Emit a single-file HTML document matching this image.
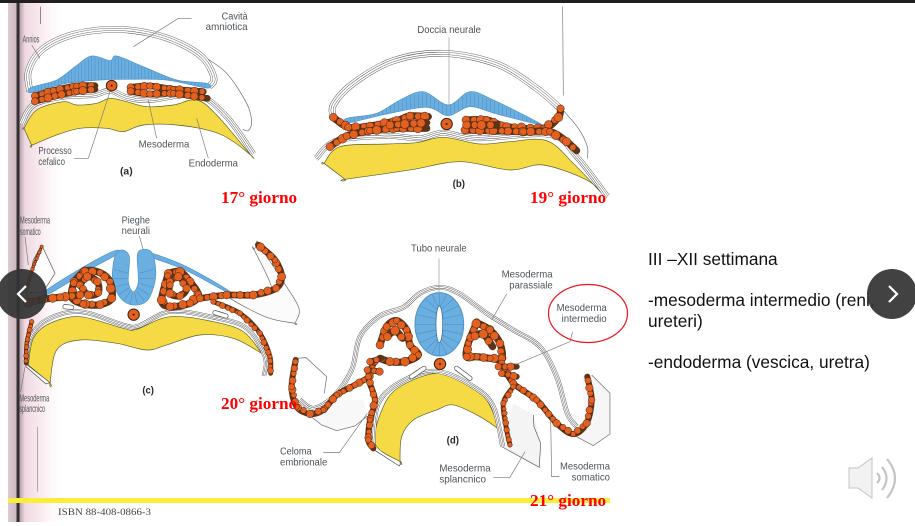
<!DOCTYPE html>
<html lang="it">
<head>
<meta charset="utf-8">
<title>Mesoderma</title>
<style>
html,body{margin:0;padding:0;background:#fff}
#slide{position:relative;width:915px;height:526px;overflow:hidden;background:#fff;font-family:"Liberation Sans",sans-serif}
#topbar{position:absolute;left:0;top:0;width:915px;height:3px;background:#1f1f1f}
#page{position:absolute;left:8px;top:3px;width:60px;height:519px;background:linear-gradient(90deg,#dccbd2 0,#cdb9c2 8px,#3a3436 9px,#2c2a2b 11px,#b8a2ac 12px,#f0d9e2 17px,#f8e8ee 30px,#fdf7f9 42px,#fff 55px)}
#art{position:absolute;left:0;top:0;filter:blur(.3px)}
.day{position:absolute;color:#f00;font:bold 17.2px "Liberation Serif",serif;white-space:nowrap;line-height:20px}
.note{position:absolute;left:648px;color:#111;font-size:17.3px;line-height:20.500px;white-space:nowrap}
.nav{position:absolute;width:50px;height:50px;border-radius:50%;background:rgba(52,52,52,.93);top:269px}
.nav svg{position:absolute;left:0;top:0}
</style>
</head>
<body>
<div id="slide">
<div id="page"></div>
<svg id="art" width="915" height="526" viewBox="0 0 915 526">
  <rect x="8" y="498" width="602" height="5" fill="#fbee3a"/>
  <g id="panel-a" transform="scale(0.3333)"></g>
  <g id="panel-b" transform="translate(310,0) scale(0.3333)"></g>
  <g id="panel-c" transform="translate(0,210) scale(0.3333)"></g>
  <g id="panel-d" transform="translate(280,230) scale(0.3333)"></g>
  <text x="58" y="515" font-family="Liberation Serif, serif" font-size="9" fill="#444" textLength="93" lengthAdjust="spacingAndGlyphs">ISBN 88-408-0866-3</text>
  <ellipse cx="588" cy="313.500" rx="39.500" ry="29" fill="none" stroke="#f01420" stroke-width="1.200"/>
</svg>

<div class="day" style="left:221px;top:188px">17° giorno</div>
<div class="day" style="left:530px;top:188px">19° giorno</div>
<div class="day" style="left:221px;top:394px">20° giorno</div>
<div class="day" style="left:530px;top:491px">21° giorno</div>

<div class="note" style="top:249px">III –XII settimana</div>
<div class="note" style="top:290px">-mesoderma intermedio (reni,<br>ureteri)</div>
<div class="note" style="top:352px">-endoderma (vescica, uretra)</div>

<div class="nav" style="left:-3px">
  <svg width="50" height="50"><path d="M29 17 L21 25 L29 33" fill="none" stroke="#fff" stroke-width="2.200"/></svg>
</div>
<div class="nav" style="left:867px">
  <svg width="50" height="50"><path d="M22 17 L30 25 L22 33" fill="none" stroke="#fff" stroke-width="2.200"/></svg>
</div>

<svg style="position:absolute;left:845px;top:454px" width="60" height="50" viewBox="0 0 60 50">
  <path d="M4 14 H13 L27 4 V44 L13 34 H4 Z" fill="#f2f2f2" stroke="#c4c4c4"/>
  <path d="M32 19 Q37 24 32 29" fill="none" stroke="#c4c4c4" stroke-width="2.200"/>
  <path d="M37 13 Q46 24 37 36" fill="none" stroke="#c4c4c4" stroke-width="2.200"/>
  <path d="M42 5 Q58 24 42 44" fill="none" stroke="#c4c4c4" stroke-width="2.200"/>
</svg>
</div>

<script>
var SVGNS = 'http://www.w3.org/2000/svg';
var YELLOW = '#f6da45', BLUE = '#6aafe0', ORANGE = '#e4601f', DARK = '#3e3e3e', BEADLINE = '#3b2415', CELLWALL = '#4f93c9';

function smooth(pts, closed) {
  var n = pts.length, d = 'M' + pts[0][0] + ' ' + pts[0][1];
  var last = closed ? n : n - 1;
  for (var i = 0; i < last; i++) {
    var p0 = closed ? pts[(i - 1 + n) % n] : pts[Math.max(i - 1, 0)];
    var p1 = pts[i % n];
    var p2 = pts[(i + 1) % n];
    var p3 = closed ? pts[(i + 2) % n] : pts[Math.min(i + 2, n - 1)];
    d += 'C' + (p1[0] + (p2[0] - p0[0]) / 6).toFixed(1) + ' ' + (p1[1] + (p2[1] - p0[1]) / 6).toFixed(1) + ' ' +
         (p2[0] - (p3[0] - p1[0]) / 6).toFixed(1) + ' ' + (p2[1] - (p3[1] - p1[1]) / 6).toFixed(1) + ' ' +
         p2[0] + ' ' + p2[1];
  }
  return d + (closed ? 'Z' : '');
}

function node(parent, tag, name) {
  var el = document.createElementNS(SVGNS, tag);
  
  
  parent.appendChild(el);
  return el;
}

function shape(parent, name, pts, fill, stroke, sw, closed) {
  var el = node(parent, 'path', name);
  el.setAttribute('d', smooth(pts, closed));
  el.setAttribute('fill', fill);
  el.setAttribute('stroke', stroke);
  el.setAttribute('stroke-width', sw);
  el.setAttribute('stroke-linejoin', 'round');
  return el;
}

function poly(parent, name, pts, fill, stroke, sw) {
  var el = node(parent, 'polygon', name);
  el.setAttribute('points', pts.map(function (p) { return p.join(','); }).join(' '));
  el.setAttribute('fill', fill);
  el.setAttribute('stroke', stroke);
  el.setAttribute('stroke-width', sw);
  el.setAttribute('stroke-linejoin', 'round');
  return el;
}

function membrane(parent, name, pts, w) {
  var layers = [[w, DARK], [w - 2.4, '#fff'], [w * 0.34 + 1.2, DARK], [w * 0.34 - 1.2, '#fff']];
  layers.forEach(function (l) {
    shape(parent, name, pts, 'none', l[1], l[0], false);
  });
}

function pill(parent, name, pts, w) {
  shape(parent, name, pts, 'none', '#444', w, false).setAttribute('stroke-linecap', 'round');
  shape(parent, name + '-lumen', pts, 'none', '#fff', w - 4, false).setAttribute('stroke-linecap', 'round');
}

function line(parent, name, pts, color) {
  var el = node(parent, 'polyline', name);
  el.setAttribute('points', pts.map(function (p) { return p.join(','); }).join(' '));
  el.setAttribute('fill', 'none');
  el.setAttribute('stroke', color || '#777');
  el.setAttribute('stroke-width', 2);
}

function beadRow(parent, name, pts, r) {
  shape(parent, name + '-tissue', pts, 'none', '#5e3418', r * 1.8, false).setAttribute('stroke-linecap', 'round');
  var pattern = [1, 0.85, 1.12, 0.92, 1.05, 0.8];
  var idx = 0;
  for (var i = 0; i < pts.length - 1; i++) {
    var dx = pts[i + 1][0] - pts[i][0], dy = pts[i + 1][1] - pts[i][1];
    var len = Math.sqrt(dx * dx + dy * dy), t = 0;
    while (t < len) {
      var rr = r * pattern[idx % pattern.length];
      var c = node(parent, 'circle', name + '-cell');
      c.setAttribute('cx', (pts[i][0] + dx * t / len).toFixed(1));
      c.setAttribute('cy', (pts[i][1] + dy * t / len).toFixed(1));
      c.setAttribute('r', rr.toFixed(1));
      c.setAttribute('fill', ORANGE);
      c.setAttribute('stroke', BEADLINE);
      c.setAttribute('stroke-width', 1.5);
      t += rr * 2;
      idx++;
    }
  }
}

function notochord(parent, x, y, r) {
  var c = node(parent, 'circle', 'notochord');
  c.setAttribute('cx', x);
  c.setAttribute('cy', y);
  c.setAttribute('r', r);
  c.setAttribute('fill', ORANGE);
  c.setAttribute('stroke', BEADLINE);
  c.setAttribute('stroke-width', 3);
  var k = node(parent, 'circle', 'notochord-core');
  k.setAttribute('cx', x);
  k.setAttribute('cy', y);
  k.setAttribute('r', 3);
  k.setAttribute('fill', '#3a1a0a');
}

function label(parent, name, str, x1, x2, y, bold) {
  var t = node(parent, 'text', name);
  t.setAttribute('x', x1);
  t.setAttribute('y', y);
  t.setAttribute('font-family', 'Liberation Sans, sans-serif');
  t.setAttribute('font-size', 31);
  t.setAttribute('fill', bold ? '#2a2a2a' : '#4d5358');
  if (bold) t.setAttribute('font-weight', 'bold');
  t.setAttribute('textLength', x2 - x1);
  t.setAttribute('lengthAdjust', 'spacingAndGlyphs');
  t.textContent = str;
}

function stripes(parent, name, top, bottom, step) {
  var g = node(parent, 'g', name);
  var minX = top[0][0], maxX = top[top.length - 1][0];
  function yAt(arr, x) {
    for (var i = 0; i < arr.length - 1; i++) {
      if (x >= arr[i][0] && x <= arr[i + 1][0]) {
        return arr[i][1] + (arr[i + 1][1] - arr[i][1]) * (x - arr[i][0]) / (arr[i + 1][0] - arr[i][0]);
      }
    }
    return arr[arr.length - 1][1];
  }
  for (var x = minX + step; x < maxX; x += step) {
    line(g, 'neural-cell-wall', [[x, yAt(top, x) + 2], [x, yAt(bottom, x) - 2]], CELLWALL);
  }
}

/* ---------- panel a ---------- */
var aAmnionOuter = [[90,275],[85,215],[125,150],[215,105],[340,88],[450,100],[540,130],[610,175],[642,235],[625,262]];
var aTail = [[605,165],[680,220],[740,310],[755,365],[745,392],[728,388]];
var aBlueTop = [[95,262],[170,240],[225,200],[275,168],[330,182],[350,168],[430,200],[530,240],[620,250]];
var aBlueBottom = [[620,264],[500,240],[380,238],[300,240],[200,250],[95,278]];
var aYellow = [[72,385],[72,385],[110,330],[190,305],[230,315],[290,310],[330,295],[380,305],[440,320],[520,315],[590,300],[650,345],[752,465],[752,465],[700,425],[640,395],[530,375],[430,375],[370,395],[320,385],[240,385],[170,405],[95,436],[95,436]];
var aMembrane = [[65,372],[100,315],[190,290],[280,285],[330,272],[380,292],[450,300],[590,285],[680,350],[760,462]];
var aCellsLeft1 = [[105,288],[160,272],[230,258],[285,257]];
var aCellsLeft2 = [[105,304],[165,288],[230,274],[285,268]];
var aCellsRight1 = [[392,262],[450,258],[520,268],[610,275]];
var aCellsRight2 = [[392,274],[450,282],[520,280],[622,295]];

var pa = document.getElementById('panel-a');
shape(pa, 'chorion-tail', aTail, 'none', '#666', 2, false);
shape(pa, 'amniotic-cavity', aAmnionOuter, '#fff', 'none', 0, false);
membrane(pa, 'amnion-membrane', aAmnionOuter, 20);
shape(pa, 'ectoderm', aBlueTop.concat(aBlueBottom), BLUE, '#4f93c9', 2, true);
stripes(pa, 'ectoderm-cells', aBlueTop, aBlueBottom.slice().reverse(), 10);
shape(pa, 'yolk-sac', aYellow, YELLOW, '#55602a', 2, true);
membrane(pa, 'endoderm-membrane', aMembrane, 17);
beadRow(pa, 'mesoderm-left', aCellsLeft1, 11);
beadRow(pa, 'mesoderm-left', aCellsLeft2, 11);
beadRow(pa, 'mesoderm-right', aCellsRight1, 11);
beadRow(pa, 'mesoderm-right', aCellsRight2, 11);
notochord(pa, 335, 257, 16);
line(pa, 'leader-amnios-top', [[121,20],[121,72]], '#555');
line(pa, 'leader-cavita', [[575,55],[535,55],[400,140]]);
line(pa, 'leader-annios', [[95,135],[120,175]]);
line(pa, 'leader-processo', [[222,475],[265,475],[330,275]]);
line(pa, 'leader-mesoderma', [[445,300],[470,415]]);
line(pa, 'leader-endoderma', [[590,355],[625,475]]);
label(pa, 'cavita-label', 'Cavità', 665, 743, 58);
label(pa, 'amniotica-label', 'amniotica', 617, 743, 90);
label(pa, 'annios-label', 'Annios', 68, 118, 128);
label(pa, 'processo-label', 'Processo', 115, 215, 462);
label(pa, 'cefalico-label', 'cefalico', 115, 195, 495);
label(pa, 'mesoderma-label', 'Mesoderma', 416, 568, 443);
label(pa, 'endoderma-label', 'Endoderma', 566, 714, 500);
label(pa, 'panel-a-letter', '(a)', 360, 398, 523, true);

/* ---------- panel b ---------- */
var bAmnion = [[72,355],[70,315],[130,250],[250,182],[400,160],[560,192],[680,265],[750,325],[725,362],[600,352],[480,318],[415,345],[350,322],[230,345],[110,365]];
var bTail = [[750,320],[805,385],[832,440],[832,475]];
var bBlueTop = [[110,355],[200,340],[270,300],[340,275],[415,315],[480,275],[550,300],[680,365]];
var bBlueBottom = [[680,372],[560,342],[480,320],[415,347],[350,322],[230,342],[110,370]];
var bYellow = [[42,490],[42,490],[90,440],[230,432],[320,428],[400,412],[510,432],[600,425],[710,422],[790,490],[880,585],[880,585],[830,540],[700,495],[600,510],[450,485],[300,510],[105,538],[105,538]];
var bMembrane = [[18,475],[80,422],[230,408],[330,415],[400,398],[500,415],[720,405],[800,470],[892,590]];
var bCellsLeft1 = [[70,352],[115,382],[180,378],[260,362],[300,348],[355,350]];
var bCellsLeft2 = [[60,440],[110,408],[180,392],[260,385],[350,385]];
var bCellsLeft3 = [[240,375],[350,368]];
var bCellsRight1 = [[468,360],[530,360],[590,380],[700,385],[745,352],[752,325]];
var bCellsRight2 = [[465,390],[550,392],[640,395],[720,395],[770,425],[800,452]];
var bCellsRight3 = [[470,375],[560,375]];

var pb = document.getElementById('panel-b');
shape(pb, 'chorion-tail', bTail, 'none', '#666', 2, false);
shape(pb, 'amniotic-cavity', bAmnion, '#fff', 'none', 0, true);
membrane(pb, 'amnion-membrane', bAmnion.slice(0, 8), 20);
shape(pb, 'yolk-sac', bYellow, YELLOW, '#55602a', 2, true);
membrane(pb, 'endoderm-membrane', bMembrane, 17);
shape(pb, 'neural-groove', bBlueTop.concat(bBlueBottom), BLUE, '#4f93c9', 2, true);
stripes(pb, 'neural-groove-cells', bBlueTop, bBlueBottom.slice().reverse(), 12);
[bCellsLeft1, bCellsLeft2, bCellsLeft3].forEach(function (r) { beadRow(pb, 'mesoderm-left', r, 12); });
[bCellsRight1, bCellsRight2, bCellsRight3].forEach(function (r) { beadRow(pb, 'mesoderm-right', r, 12); });
notochord(pb, 410, 372, 17);
line(pb, 'leader-doccia', [[417,112],[417,315]], '#999');
line(pb, 'leader-right', [[758,20],[760,287]], '#777');
label(pb, 'doccia-neurale-label', 'Doccia neurale', 322, 513, 99);
label(pb, 'panel-b-letter', '(b)', 428, 465, 561, true);

/* ---------- panel c ---------- */
var cFlapRight = [[762,118],[762,118],[815,235],[770,245],[690,250],[690,265],[800,322],[885,340],[885,340],[897,295],[850,215],[775,102],[775,102]];
var cFlapLeft = [[125,105],[165,190],[130,245],[80,250],[100,150]];
var cArmLeft = [[140,240],[260,165],[345,122],[350,134],[270,178],[150,250]];
var cArmRight = [[450,128],[560,170],[680,238],[680,246],[560,182],[450,140]];
var cFold = [[345,138],[338,210],[365,268],[405,285],[445,268],[467,200],[458,132],[432,118],[412,135],[415,215],[400,245],[385,215],[388,140],[365,120]];
var cYellow = [[85,465],[85,465],[100,385],[150,340],[240,320],[370,355],[410,358],[510,320],[640,335],[730,365],[785,430],[785,430],[700,385],[600,375],[500,405],[440,420],[350,400],[240,390],[170,420],[150,520],[150,520]];
var cMembrane = [[78,462],[90,385],[140,330],[240,305],[370,345],[415,348],[510,305],[640,322],[740,355],[795,440],[792,498]];
var cFootLeft = [[78,462],[150,518],[138,522],[78,470]];
var cRingLeftInner = [[240,225],[262,200],[292,215],[295,248],[265,255],[240,225]];
var cRingLeftOuter = [[222,215],[255,183],[300,188],[330,215],[335,265],[300,284],[250,282],[215,262],[222,215]];
var cBandLeft = [[240,255],[180,262],[130,268],[80,280]];
var cLowerLeft = [[95,335],[80,400],[78,460]];
var cUpperLeft = [[125,110],[100,170],[80,235]];
var cRingRightInner = [[510,215],[535,200],[560,235],[540,258],[510,250],[510,215]];
var cRingRightOuter = [[505,190],[540,185],[570,215],[595,255],[570,280],[510,290],[485,270],[505,190]];
var cBandRight = [[600,265],[680,255],[760,255],[828,235],[845,200],[825,150],[775,105]];
var cLowerRight = [[640,275],[720,310],[780,370],[810,440],[812,490]];
var cSlitLeft = [[195,290],[215,292]];
var cSlitRight = [[645,308],[678,318]];
var cFoldAngles = [-20,0,20,40,60,80,100,120,140,160,180,200];

var pc = document.getElementById('panel-c');
shape(pc, 'lateral-fold-right', cFlapRight, '#fbfbfb', '#666', 2, true);
poly(pc, 'lateral-fold-left', cFlapLeft, '#fff', '#555', 2);
shape(pc, 'ectoderm-left', cArmLeft, BLUE, '#4f93c9', 2, true);
shape(pc, 'ectoderm-right', cArmRight, BLUE, '#4f93c9', 2, true);
shape(pc, 'neural-fold', cFold, BLUE, '#4f93c9', 2, true);
cFoldAngles.forEach(function (deg) {
  var a = deg * Math.PI / 180;
  line(pc, 'neural-fold-cell-wall', [[401 + 18 * Math.cos(a), 205 + 45 * Math.sin(a)], [401 + 62 * Math.cos(a), 205 + 78 * Math.sin(a)]], CELLWALL);
});
shape(pc, 'yolk-sac', cYellow, YELLOW, '#55602a', 2, true);
membrane(pc, 'endoderm-membrane', cMembrane, 13);
poly(pc, 'yolk-foot-left', cFootLeft, '#fff', '#444', 2);
beadRow(pc, 'mesoderm-ring-left', cRingLeftOuter, 12);
beadRow(pc, 'mesoderm-ring-left', cRingLeftInner, 11);
beadRow(pc, 'mesoderm-band-left', cBandLeft, 12);
beadRow(pc, 'mesoderm-lower-left', cLowerLeft, 7);
beadRow(pc, 'mesoderm-upper-left', cUpperLeft, 5);
beadRow(pc, 'mesoderm-ring-right', cRingRightOuter, 12);
beadRow(pc, 'mesoderm-ring-right', cRingRightInner, 11);
beadRow(pc, 'mesoderm-band-right', cBandRight, 11);
beadRow(pc, 'mesoderm-lower-right', cLowerRight, 8);
pill(pc, 'coelom-slit', cSlitLeft, 15);
pill(pc, 'coelom-slit', cSlitRight, 15);
notochord(pc, 401, 314, 17);
line(pc, 'leader-pieghe', [[418,78],[430,120]]);
line(pc, 'leader-somatico', [[75,80],[85,165]]);
line(pc, 'leader-splancnico', [[75,470],[62,545]]);
line(pc, 'margin-rule', [[113,650],[113,845]], '#8b8894');
label(pc, 'mesoderma-somatico-left-label', 'Mesoderma', 60, 150, 41);
label(pc, 'somatico-left-label', 'somatico', 60, 122, 75);
label(pc, 'pieghe-label', 'Pieghe', 365, 450, 40);
label(pc, 'neurali-label', 'neurali', 365, 450, 72);
label(pc, 'panel-c-letter', '(c)', 427, 462, 551, true);
label(pc, 'mesoderma-splancnico-left-label', 'Mesoderma', 58, 148, 574);
label(pc, 'splancnico-left-label', 'splancnico', 58, 135, 606);

/* ---------- panel d ---------- */
var dOuter = [[60,510],[100,535],[160,500],[215,420],[240,320],[300,258],[370,232],[420,190],[480,172],[540,192],[620,250],[700,300],[780,350],[830,440],[862,550],[890,590]];
var dFlapTopFill = [[48,385],[78,383],[140,440],[133,490],[55,470]];
var dFlapTopEdge = [[48,385],[78,383],[140,440],[133,490]];
var dFlapBottomFill = [[85,553],[125,585],[170,602],[225,588],[262,558],[250,510],[160,510]];
var dFlapBottomEdge = [[85,553],[125,585],[170,602],[225,588],[262,558]];
var dFlapRightFill = [[905,440],[935,435],[990,490],[990,612],[940,647],[880,615],[915,560]];
var dFlapRightEdge = [[935,435],[990,490],[990,612],[940,647],[880,615]];
var dFlapLowFill = [[665,650],[778,712],[782,640],[760,555],[700,520]];
var dFlapLowEdge = [[665,650],[778,712],[782,640],[762,590],[760,555]];
var dFlapFoot = [[275,655],[358,708],[364,696],[285,645]];
var dYellow = [[285,640],[310,530],[360,470],[470,430],[560,460],[620,510],[660,600],[660,600],[600,560],[520,525],[470,540],[400,570],[365,620],[360,695],[360,695]];
var dMembrane = [[278,655],[295,520],[370,452],[470,424],[580,470],[640,530],[668,650]];
var dRingLeft = [[300,345],[320,290],[350,272],[380,300],[390,345],[415,375],[375,395],[330,395],[300,385]];
var dRingLeft2 = [[322,320],[345,302],[368,325]];
var dBandLeft = [[270,440],[225,465],[170,495],[130,540],[90,552],[50,530],[35,470],[47,390]];
var dLowerLeft = [[285,395],[265,440],[285,510],[270,570],[265,630],[280,655]];
var dClusterLeft1 = [[270,395],[305,385]];
var dClusterLeft2 = [[262,420],[300,425]];
var dRingRight = [[590,278],[630,300],[660,340],[665,385],[630,385],[590,380],[560,380],[565,340],[590,278]];
var dRingRight2 = [[585,318],[610,312],[638,350]];
var dBandRight = [[665,400],[700,460],[770,510],[830,580],[880,612],[920,580],[935,510],[922,440]];
var dLowerRight = [[700,470],[670,520],[680,600],[690,645]];
var dClusterRight1 = [[655,410],[710,410]];
var dClusterRight2 = [[665,430],[710,440]];
var dSlitLeft = [[395,440],[432,415]];
var dSlitRight = [[530,415],[570,445]];
var dTubeAngles = [0,18,36,54,72,90,108,126,144,162,180,198,216,234,252,270,288,306,324,342];

var pd = document.getElementById('panel-d');
poly(pd, 'lateral-fold-left-upper', dFlapTopFill, '#fff', 'none', 0);
line(pd, 'lateral-fold-left-upper-edge', dFlapTopEdge, '#666');
poly(pd, 'lateral-fold-left-lower', dFlapBottomFill, '#f8f8f8', 'none', 0);
line(pd, 'lateral-fold-left-lower-edge', dFlapBottomEdge, '#666');
poly(pd, 'lateral-fold-right', dFlapRightFill, '#f6f6f6', 'none', 0);
line(pd, 'lateral-fold-right-edge', dFlapRightEdge, '#666');
poly(pd, 'lower-fold-right', dFlapLowFill, '#f4f4f4', 'none', 0);
line(pd, 'lower-fold-right-edge', dFlapLowEdge, '#555');
poly(pd, 'lower-fold-left', dFlapFoot, '#fff', '#444', 2);
membrane(pd, 'ectoderm-membrane', dOuter, 14);
shape(pd, 'yolk-sac', dYellow, YELLOW, '#55602a', 2, true);
membrane(pd, 'endoderm-membrane', dMembrane, 14);
var tube = node(pd, 'ellipse', 'neural-tube');
tube.setAttribute('cx', 478);
tube.setAttribute('cy', 283);
tube.setAttribute('rx', 73);
tube.setAttribute('ry', 95);
tube.setAttribute('fill', BLUE);
tube.setAttribute('stroke', '#4f93c9');
tube.setAttribute('stroke-width', 3);
dTubeAngles.forEach(function (deg) {
  var a = deg * Math.PI / 180;
  line(pd, 'neural-tube-cell-wall', [[478 + 10 * Math.cos(a), 283 + 55 * Math.sin(a)], [478 + 73 * Math.cos(a), 283 + 95 * Math.sin(a)]], CELLWALL);
});
var lumen = node(pd, 'ellipse', 'neural-tube-lumen');
lumen.setAttribute('cx', 478);
lumen.setAttribute('cy', 283);
lumen.setAttribute('rx', 10);
lumen.setAttribute('ry', 55);
lumen.setAttribute('fill', '#fff');
lumen.setAttribute('stroke', '#2d5d86');
lumen.setAttribute('stroke-width', 2);
beadRow(pd, 'mesoderm-ring-left', dRingLeft, 12);
beadRow(pd, 'mesoderm-ring-left', dRingLeft2, 12);
beadRow(pd, 'mesoderm-band-left', dBandLeft, 10);
beadRow(pd, 'mesoderm-lower-left', dLowerLeft, 10);
beadRow(pd, 'mesoderm-cluster-left', dClusterLeft1, 10);
beadRow(pd, 'mesoderm-cluster-left', dClusterLeft2, 10);
beadRow(pd, 'mesoderm-ring-right', dRingRight, 12);
beadRow(pd, 'mesoderm-ring-right', dRingRight2, 12);
beadRow(pd, 'mesoderm-band-right', dBandRight, 10);
beadRow(pd, 'mesoderm-lower-right', dLowerRight, 8);
beadRow(pd, 'mesoderm-cluster-right', dClusterRight1, 10);
beadRow(pd, 'mesoderm-cluster-right', dClusterRight2, 10);
pill(pd, 'coelom-slit-left', dSlitLeft, 15);
pill(pd, 'coelom-slit-right', dSlitRight, 15);
notochord(pd, 480, 402, 17);
line(pd, 'leader-tubo', [[477,85],[477,190]], '#999');
line(pd, 'leader-parassiale', [[680,192],[635,270]]);
line(pd, 'leader-intermedio', [[878,305],[870,335],[705,405]]);
line(pd, 'leader-celoma', [[130,668],[178,668],[262,550]]);
line(pd, 'leader-splancnico', [[640,742],[690,742],[735,665]]);
line(pd, 'leader-somatico', [[838,740],[815,740],[812,560]]);
label(pd, 'tubo-neurale-label', 'Tubo neurale', 393, 560, 65);
label(pd, 'mesoderma-parassiale-label', 'Mesoderma', 665, 818, 143);
label(pd, 'parassiale-label', 'parassiale', 688, 818, 176);
label(pd, 'mesoderma-intermedio-label', 'Mesoderma', 830, 980, 243);
label(pd, 'intermedio-label', 'intermedio', 845, 980, 276);
label(pd, 'panel-d-letter', '(d)', 500, 537, 641, true);
label(pd, 'celoma-label', 'Celoma', 0, 95, 674);
label(pd, 'embrionale-label', 'embrionale', 0, 142, 706);
label(pd, 'mesoderma-splancnico-label', 'Mesoderma', 478, 632, 725);
label(pd, 'splancnico-label', 'splancnico', 478, 618, 757);
label(pd, 'mesoderma-somatico-label', 'Mesoderma', 840, 990, 719);
label(pd, 'somatico-label', 'somatico', 875, 990, 752);
</script>
<div id="topbar"></div>
</body>
</html>
